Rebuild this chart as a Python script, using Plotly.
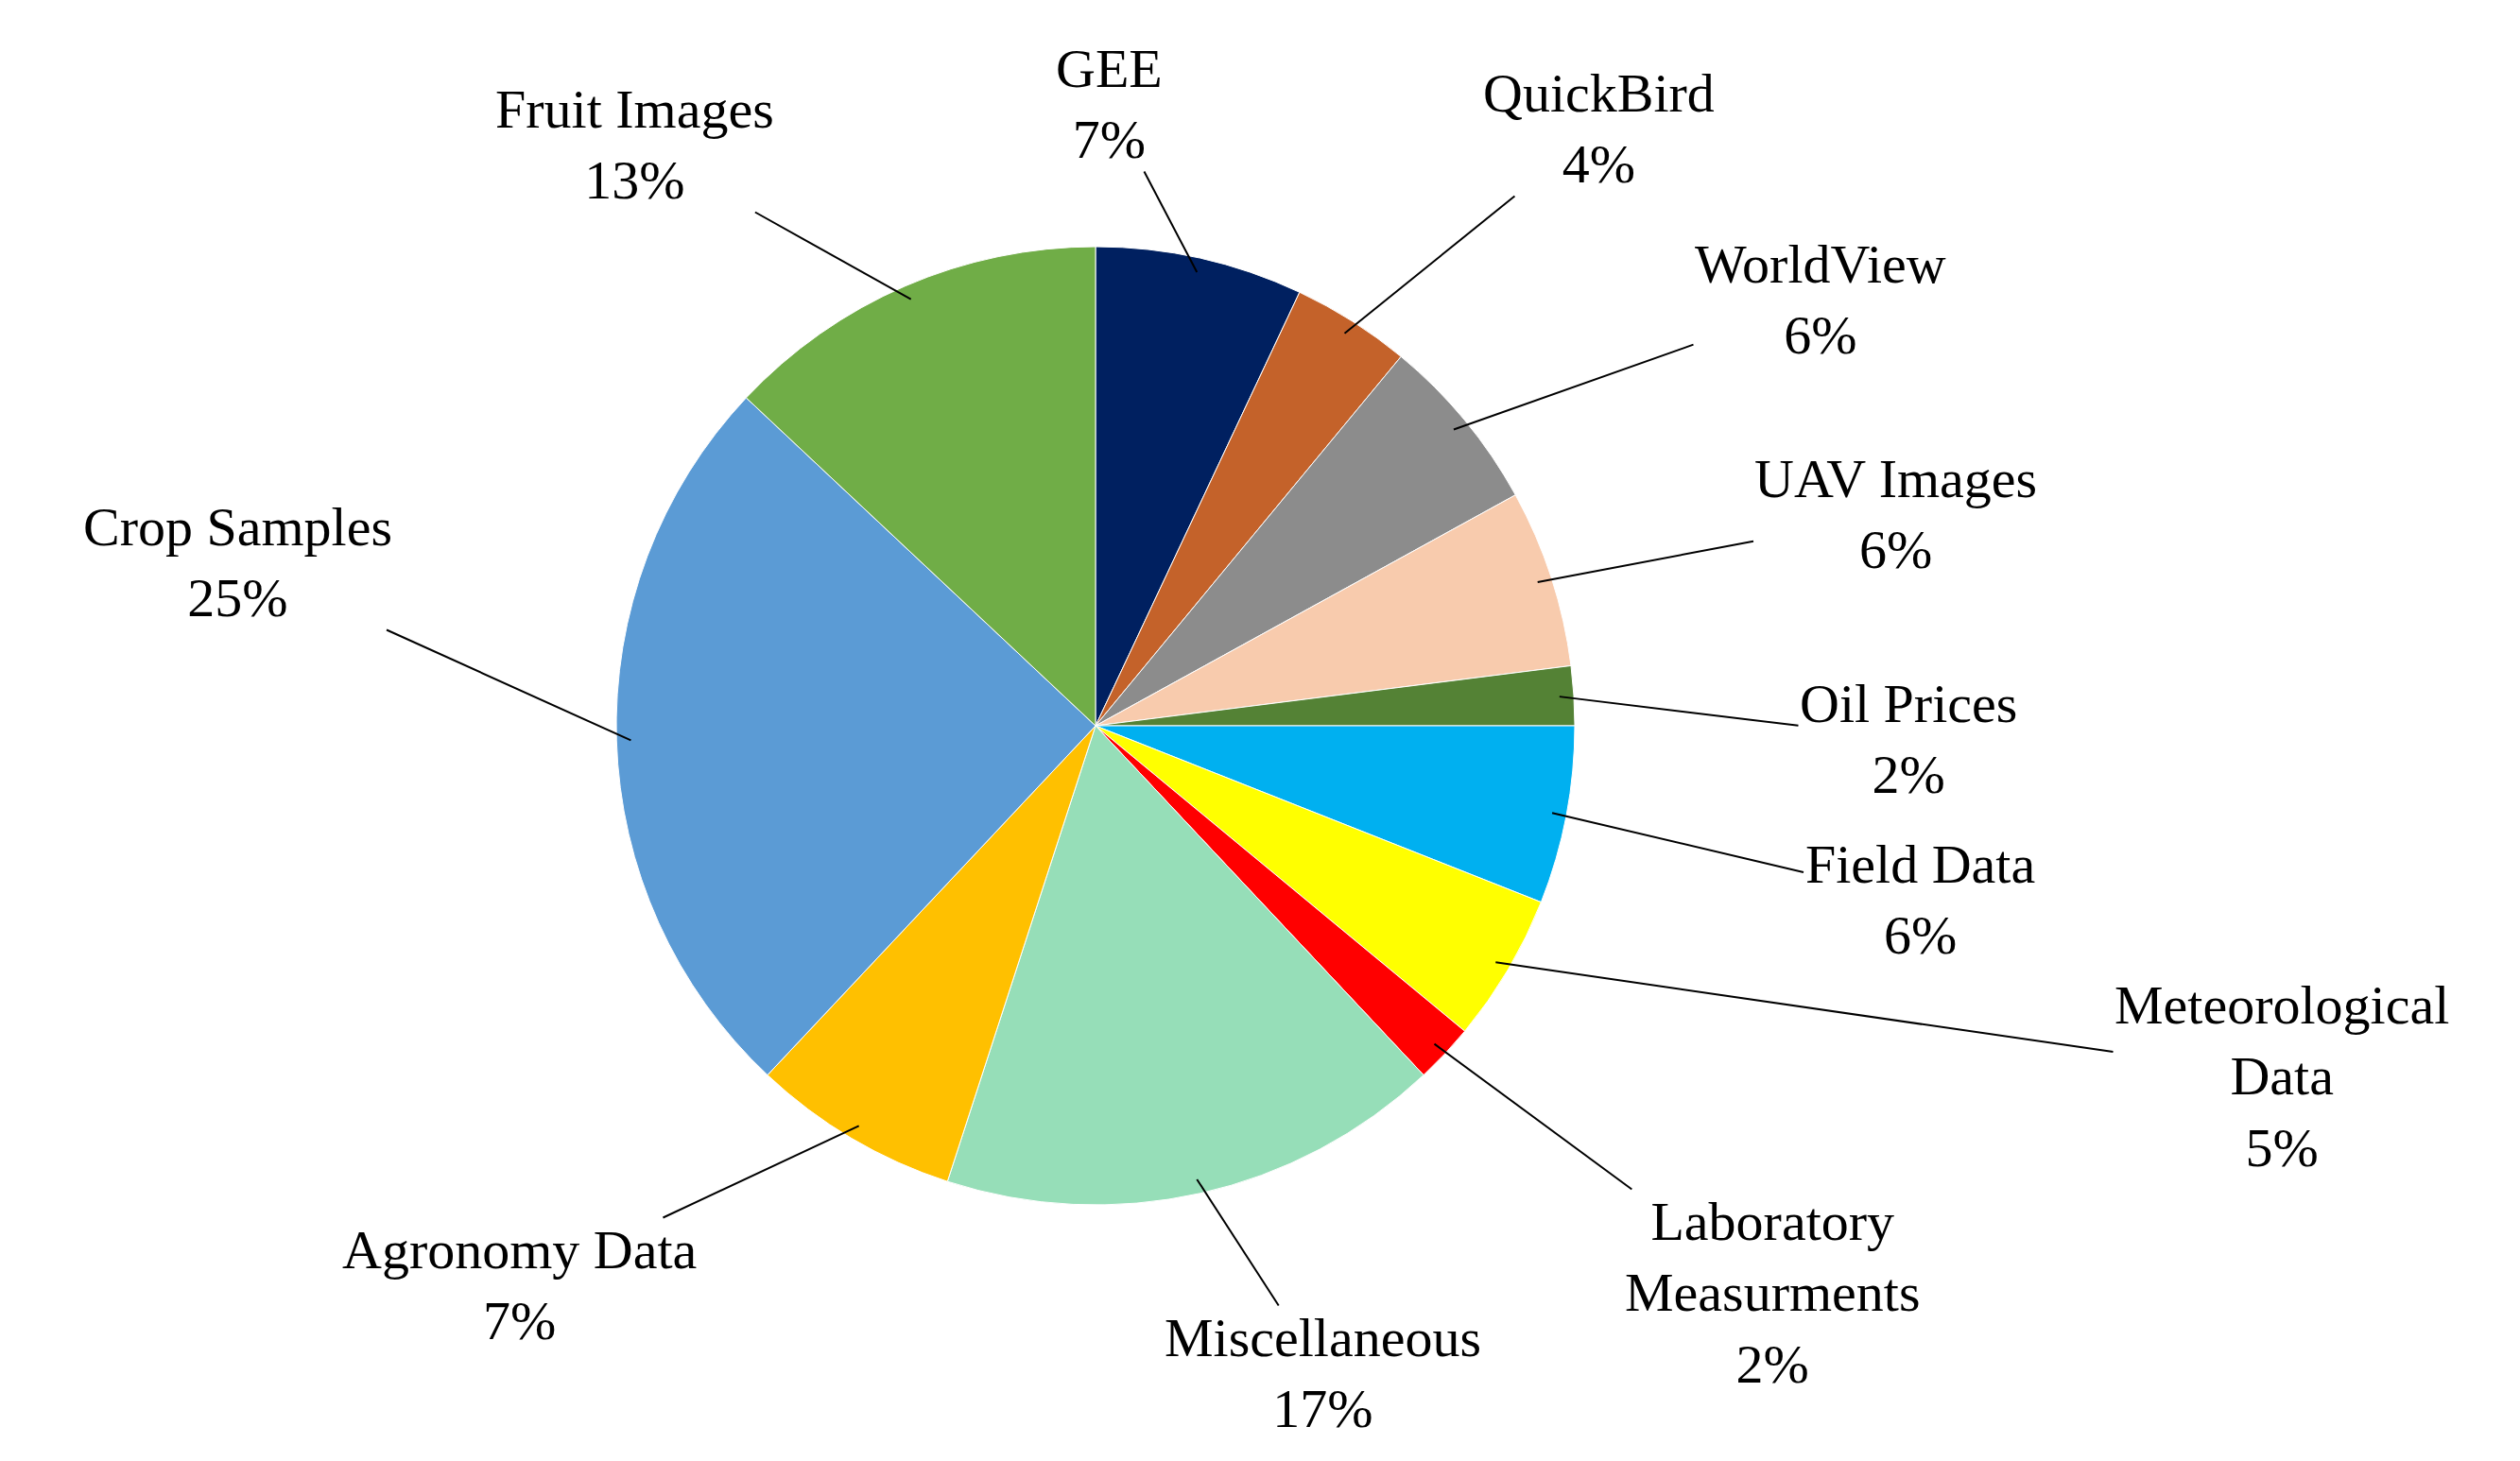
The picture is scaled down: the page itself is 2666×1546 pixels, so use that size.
import math
import plotly.graph_objects as go

labels = ["GEE", "QuickBird", "WorldView", "UAV Images", "Oil Prices", "Field Data",
          "Meteorological<br>Data", "Laboratory<br>Measurments", "Miscellaneous",
          "Agronomy Data", "Crop Samples", "Fruit Images"]
values = [7, 4, 6, 6, 2, 6, 5, 2, 17, 7, 25, 13]
colors = ["#002060", "#C4622A", "#8C8C8C", "#F8CBAD", "#548235", "#00B0F0",
          "#FFFF00", "#FF0000", "#96DEB8", "#FFC000", "#5B9BD5", "#70AD47"]
# label centre positions in pixels (layout)
label_pos = [(1165, 102), (1683, 128), (1918, 309), (1998, 536), (2011, 774), (2023, 944),
             (2406, 1131), (1867, 1360), (1391, 1445), (541, 1352), (243, 587), (663, 145)]

W, H = 2666, 1546
cx, cy, r = 1151, 760, 507

fig = go.Figure(go.Pie(
    labels=labels, values=values, sort=False, direction="clockwise", rotation=0,
    marker=dict(colors=colors, line=dict(color="white", width=1)),
    textinfo="none", hoverinfo="label+percent", showlegend=False,
    domain=dict(x=[(cx - r) / W, (cx + r) / W], y=[1 - (cy + r) / H, 1 - (cy - r) / H]),
))

total = sum(values)
cum = 0
font = dict(family="Liberation Serif, DejaVu Serif, serif", size=58, color="black")
for lab, v, (lx, ly) in zip(labels, values, label_pos):
    mid = (cum + v / 2) / total * 2 * math.pi
    cum += v
    px = cx + r * 0.97 * math.sin(mid)
    py = cy - r * 0.97 * math.cos(mid)
    pct = f"{round(v / total * 100)}%"
    fig.add_annotation(
        x=px / W, y=1 - py / H, xref="paper", yref="paper",
        ax=lx - px, ay=ly - py, text=f"{lab}<br>{pct}", font=font,
        showarrow=True, arrowhead=0, arrowwidth=2, arrowcolor="black", standoff=0,
        align="center",
    )

fig.update_layout(width=W, height=H, margin=dict(l=0, r=0, t=0, b=0),
                  paper_bgcolor="white", plot_bgcolor="white")
fig.write_html("out.html")
